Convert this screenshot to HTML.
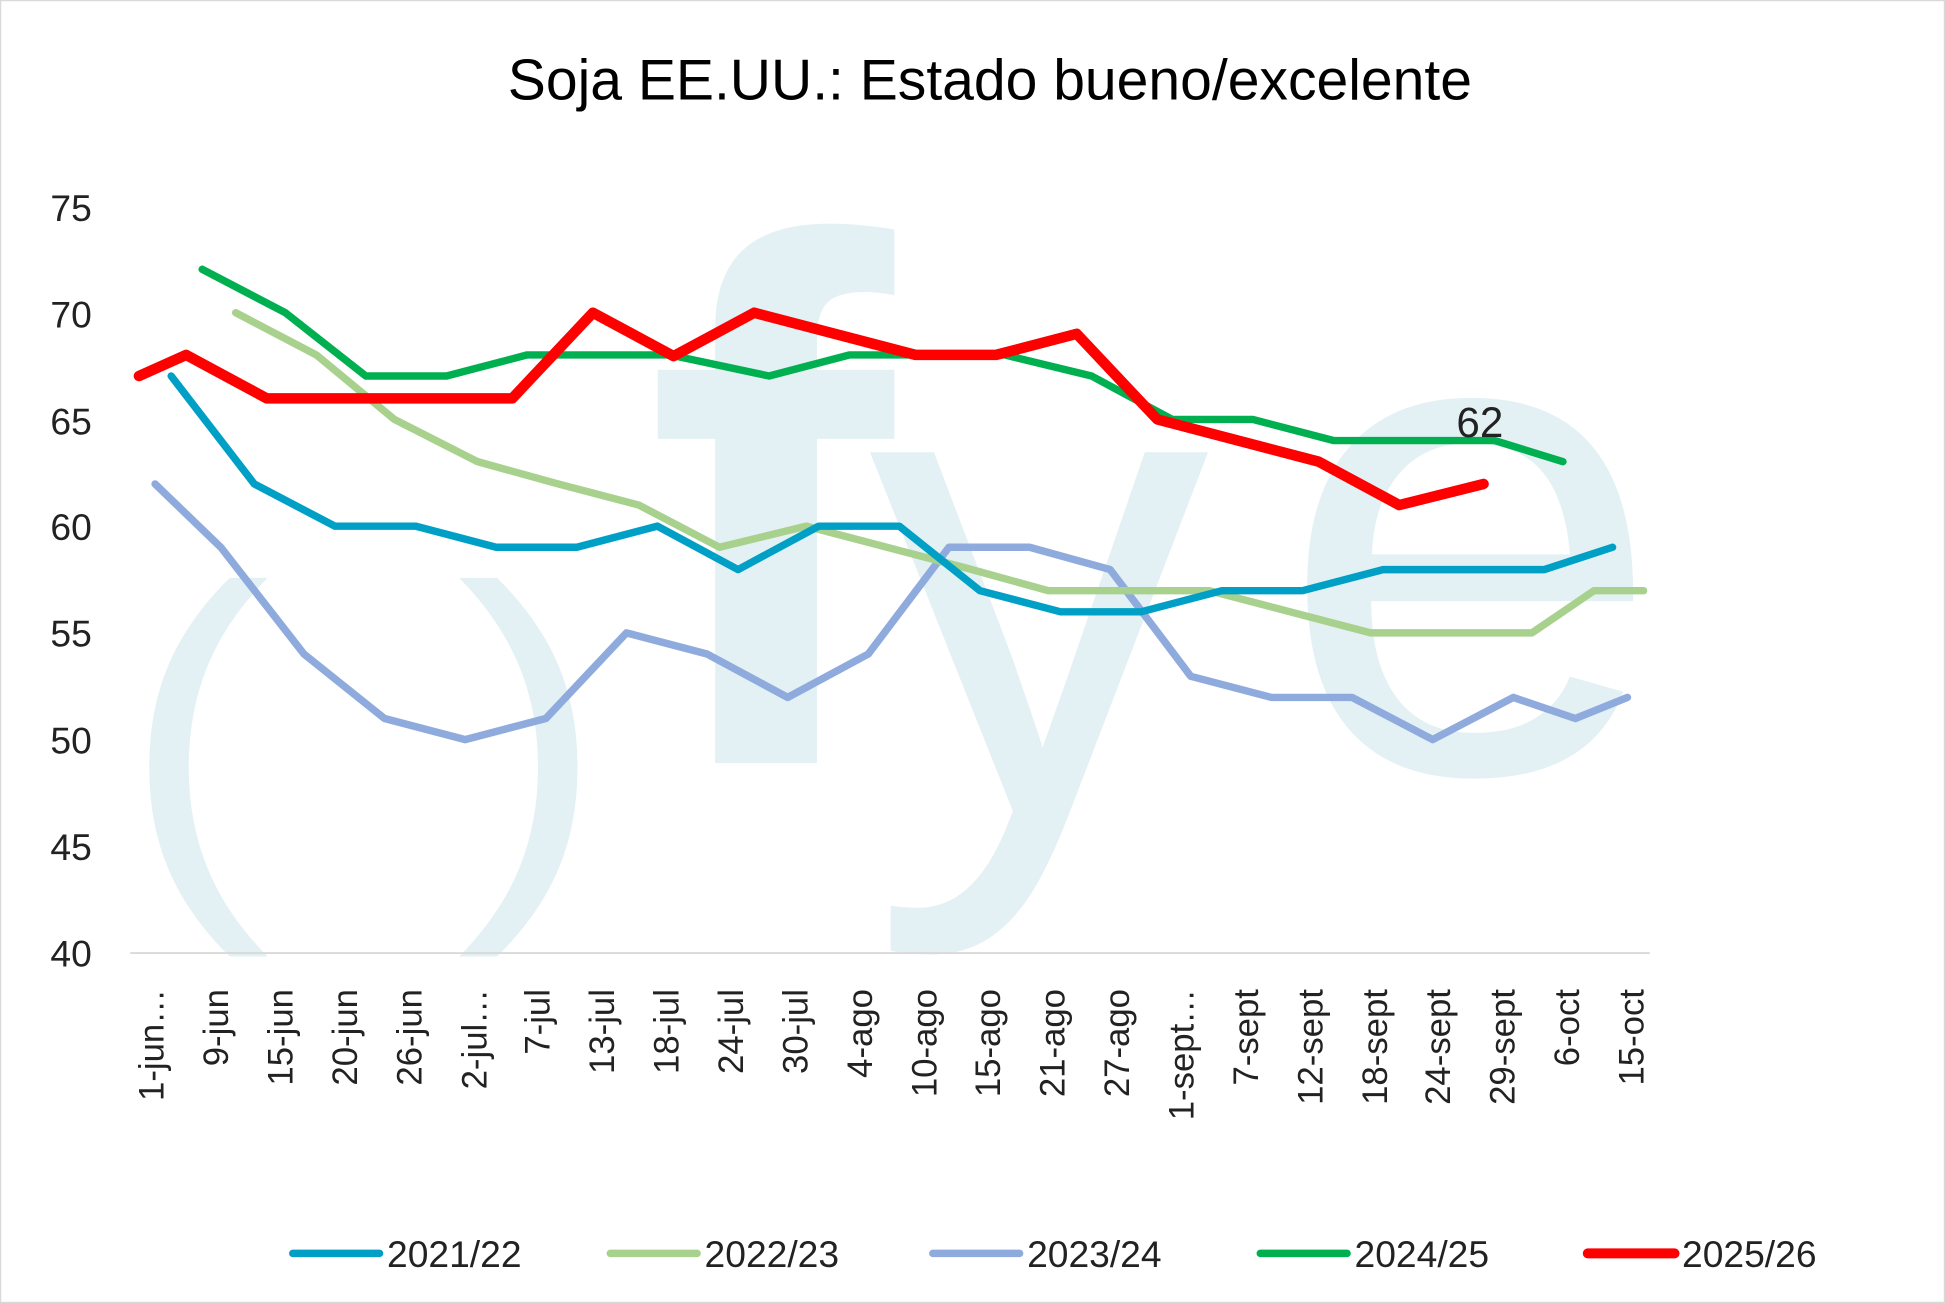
<!DOCTYPE html>
<html><head><meta charset="utf-8"><style>
html,body{margin:0;padding:0;background:#fff}
svg{display:block}
text{font-family:"Liberation Sans","DejaVu Sans",sans-serif}
</style></head><body>
<svg width="1945" height="1303" viewBox="0 0 1568 1050" preserveAspectRatio="none" xmlns="http://www.w3.org/2000/svg">
<rect x="0.5" y="0.5" width="1567" height="1049" fill="#fff" stroke="#d9d9d9"/>
<g fill="#e3f1f4">
<text x="98" y="0" font-size="360" transform="translate(0,703) scale(1,0.91)">(</text>
<text x="368" y="0" font-size="360" transform="translate(0,703) scale(1,0.91)">)</text>
<text x="520" y="615" font-size="600" font-weight="bold">f</text>
<text x="700" y="655" font-size="550">y</text>
<text x="1030" y="622" font-size="560">e</text>
</g>
<text x="798" y="80" font-size="46" text-anchor="middle" fill="#000">Soja EE.UU.: Estado bueno/excelente</text>
<g font-size="30" fill="#222" text-anchor="end">
<text x="74" y="178">75</text><text x="74" y="264">70</text><text x="74" y="350">65</text>
<text x="74" y="435">60</text><text x="74" y="521">55</text><text x="74" y="607">50</text>
<text x="74" y="693">45</text><text x="74" y="779">40</text>
</g>
<line x1="105" y1="768" x2="1330" y2="768" stroke="#d9d9d9" stroke-width="1.5"/>
<g font-size="28" fill="#222" text-anchor="end">
<text transform="translate(132,797) rotate(-90)">1-jun…</text>
<text transform="translate(184,797) rotate(-90)">9-jun</text>
<text transform="translate(236,797) rotate(-90)">15-jun</text>
<text transform="translate(288,797) rotate(-90)">20-jun</text>
<text transform="translate(340,797) rotate(-90)">26-jun</text>
<text transform="translate(392,797) rotate(-90)">2-jul…</text>
<text transform="translate(443,797) rotate(-90)">7-jul</text>
<text transform="translate(495,797) rotate(-90)">13-jul</text>
<text transform="translate(547,797) rotate(-90)">18-jul</text>
<text transform="translate(599,797) rotate(-90)">24-jul</text>
<text transform="translate(651,797) rotate(-90)">30-jul</text>
<text transform="translate(703,797) rotate(-90)">4-ago</text>
<text transform="translate(755,797) rotate(-90)">10-ago</text>
<text transform="translate(806,797) rotate(-90)">15-ago</text>
<text transform="translate(858,797) rotate(-90)">21-ago</text>
<text transform="translate(910,797) rotate(-90)">27-ago</text>
<text transform="translate(962,797) rotate(-90)">1-sept…</text>
<text transform="translate(1014,797) rotate(-90)">7-sept</text>
<text transform="translate(1066,797) rotate(-90)">12-sept</text>
<text transform="translate(1118,797) rotate(-90)">18-sept</text>
<text transform="translate(1169,797) rotate(-90)">24-sept</text>
<text transform="translate(1221,797) rotate(-90)">29-sept</text>
<text transform="translate(1273,797) rotate(-90)">6-oct</text>
<text transform="translate(1325,797) rotate(-90)">15-oct</text>
</g>
<g fill="none" stroke-linejoin="round" stroke-linecap="round">
<polyline stroke="#8faadc" stroke-width="6" points="125,390 178,441 245,527 310,579 375,596 440,579 505,510 570,527 635,562 700,527 765,441 830,441 895,459 960,545 1025,562 1090,562 1155,596 1220,562 1270,579 1312,562"/>
<polyline stroke="#a9d18e" stroke-width="6" points="190,252 255,286 318,338 385,372 450,390 515,407 580,441 650,424 780,458 845,476 975,476 1105,510 1235,510 1285,476 1325,476"/>
<polyline stroke="#00a0c6" stroke-width="6" points="138,303 205,390 270,424 335,424 400,441 465,441 530,424 595,459 660,424 725,424 790,476 855,493 920,493 985,476 1050,476 1115,459 1245,459 1300,441"/>
<polyline stroke="#00b050" stroke-width="6" points="163,217 230,252 295,303 360,303 425,286 540,286 620,303 685,286 810,286 880,303 945,338 1010,338 1075,355 1205,355 1260,372"/>
<polyline stroke="#ff0000" stroke-width="8.5" points="112,303 150,286 215,321 413,321 478,252 543,287 608,252 738,286 803,286 868,269 933,338 1063,372 1128,407 1196,390"/>
</g>
<text x="1193" y="352" font-size="34" text-anchor="middle" fill="#222">62</text>
<g font-size="30" fill="#222">
<line x1="236" y1="1010" x2="306" y2="1010" stroke="#00a0c6" stroke-width="6" stroke-linecap="round"/><text x="312" y="1021">2021/22</text>
<line x1="492" y1="1010" x2="562" y2="1010" stroke="#a9d18e" stroke-width="6" stroke-linecap="round"/><text x="568" y="1021">2022/23</text>
<line x1="752" y1="1010" x2="822" y2="1010" stroke="#8faadc" stroke-width="6" stroke-linecap="round"/><text x="828" y="1021">2023/24</text>
<line x1="1016" y1="1010" x2="1086" y2="1010" stroke="#00b050" stroke-width="6" stroke-linecap="round"/><text x="1092" y="1021">2024/25</text>
<line x1="1280" y1="1010" x2="1350" y2="1010" stroke="#ff0000" stroke-width="8" stroke-linecap="round"/><text x="1356" y="1021">2025/26</text>
</g>
</svg>
</body></html>
